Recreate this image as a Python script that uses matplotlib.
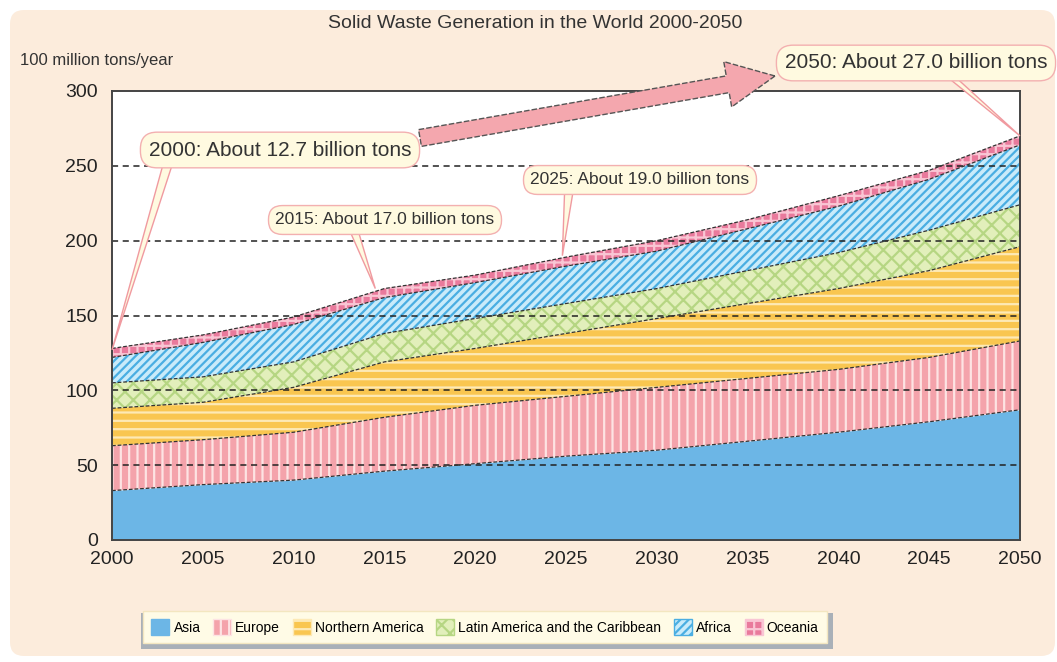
import numpy as np
import matplotlib
matplotlib.use('Agg')
import matplotlib.pyplot as plt
from matplotlib.patches import Patch, FancyBboxPatch, FancyArrow, Polygon
from matplotlib.transforms import IdentityTransform

plt.rcParams['font.family'] = ['Liberation Sans Narrow', 'Liberation Sans', 'DejaVu Sans']
plt.rcParams['hatch.linewidth'] = 1.6

# data (100 million tons / year), cumulative tops per region
years = [2000, 2005, 2010, 2015, 2020, 2025, 2030, 2035, 2040, 2045, 2050]
asia_top = [33, 37, 40, 46, 51, 56, 60, 66, 72, 79, 87]
europe_top = [63, 67, 72, 82, 90, 96, 102, 108, 114, 122, 133]
namerica_top = [88, 92, 102, 119, 128, 138, 148, 158, 168, 180, 196]
latam_top = [105, 109, 119, 138, 148, 158, 168, 180, 192, 207, 224]
africa_top = [122, 132, 144, 162, 172, 183, 193, 208, 223, 241, 264]
oceania_top = [128, 137, 149, 168, 177, 189, 200, 214, 230, 247, 270]

regions = ['Asia', 'Europe', 'Northern America', 'Latin America and the Caribbean', 'Africa', 'Oceania']
tops = [asia_top, europe_top, namerica_top, latam_top, africa_top, oceania_top]
faces = ['#6cb6e6', '#f4a3ab', '#f9c650', '#e2efbb', '#c9ebfa', '#e97a9c']
hatch_cols = ['#6cb6e6', '#fde3e3', '#fde9b5', '#b6d683', '#4aaee2', '#f9c6d4']
hatches = [None, '||', '--', 'xx', '////', '++']

annotations = [
    ('2000: About 12.7 billion tons', 2000, 127),
    ('2015: About 17.0 billion tons', 2014.5, 168),
    ('2025: About 19.0 billion tons', 2024.8, 190),
    ('2050: About 27.0 billion tons', 2050, 270),
]

W, H = 1057, 662
fig = plt.figure(figsize=(W / 100, H / 100), dpi=100)
fig.patch.set_facecolor('white')
fig.add_artist(FancyBboxPatch((10, 6), W - 12, H - 16, boxstyle='round,pad=0,rounding_size=14',
                              transform=IdentityTransform(), fc='#fcecdc', ec='none', zorder=-10))

ax = fig.add_axes([112 / W, 1 - 540 / H, (1020 - 112) / W, (540 - 91) / H])
ax.set_facecolor('white')

x = np.array(years)
bottom = np.zeros(len(years))
for name, top, fc, hc, ht in zip(regions, tops, faces, hatch_cols, hatches):
    top = np.array(top, dtype=float)
    ax.fill_between(x, bottom, top, facecolor=fc, edgecolor=hc, hatch=ht, linewidth=0, zorder=2)
    ax.plot(x, top, color='#333333', lw=0.9, ls=(0, (3, 1.5)), zorder=4)
    bottom = top

ax.set_xlim(2000, 2050)
ax.set_ylim(0, 300)
ax.set_xticks(range(2000, 2051, 5))
ax.set_yticks(range(0, 301, 50))
ax.tick_params(length=0, labelsize=14, colors='#222222', pad=8)
ax.tick_params(axis='y', pad=10)
for yv in range(50, 300, 50):
    ax.axhline(yv, color='#222222', lw=1.1, ls=(0, (4, 3)), zorder=3)
for s in ax.spines.values():
    s.set_color('#444444')
    s.set_linewidth(1.4)
    s.set_zorder(5)

fig.text(535 / W, 1 - 23 / H, 'Solid Waste Generation in the World 2000-2050',
         ha='center', va='center', fontsize=14, color='#333333')
fig.text(20 / W, 1 - 60 / H, '100 million tons/year', ha='left', va='center',
         fontsize=12, color='#333333')

# big arrow (display pixels, y up)
fig.add_artist(FancyArrow(420, H - 138, 355, 62, width=17, head_width=46, head_length=48,
                          length_includes_head=True, transform=IdentityTransform(),
                          fc='#f4a7ae', ec='#555555', lw=1.0, ls=(0, (4, 1.5)), zorder=6))

# callouts: (box centre px, font size, tail base px)
box_pos = [((280, 150), 15, 172), ((385, 220), 12.5, 350), ((640, 180), 12.5, 570), ((916, 63), 15, 935)]
for (label, yr, val), ((cx, cy), fs, tx) in zip(annotations, box_pos):
    px, py = ax.transData.transform((yr, val))
    cyd = H - cy
    tail = Polygon([(tx - 5, cyd), (tx + 5, cyd), (px, py)], closed=True,
                   transform=IdentityTransform(), fc='#fffae0', ec='#f09aa0', lw=1.0, zorder=7)
    fig.add_artist(tail)
    fig.text(cx / W, cyd / H, label, ha='center', va='center', fontsize=fs, color='#333333', zorder=8,
             bbox=dict(boxstyle='round,pad=0.4,rounding_size=0.8', fc='#fffae0', ec='#f3b0b0', lw=1.0))

# legend
handles = [Patch(facecolor=fc, edgecolor=hc, hatch=ht, label=name)
           for name, fc, hc, ht in zip(regions, faces, hatch_cols, hatches)]
fig.add_artist(FancyBboxPatch((141, H - 649), 692, 36, boxstyle='square,pad=0',
                              transform=IdentityTransform(), fc='#a9b0b8', ec='none', zorder=1))
leg = fig.legend(handles=handles, loc='center', bbox_to_anchor=(485 / W, 1 - 627 / H), ncol=6,
                 fontsize=10, frameon=True, fancybox=False, handlelength=1.3, handleheight=1.3,
                 handletextpad=0.3, columnspacing=0.9, borderpad=0.6)
leg.get_frame().set_facecolor('#fffbe6')
leg.get_frame().set_edgecolor('#f3e6c0')
leg.get_frame().set_alpha(1)
leg.set_zorder(2)

fig.savefig('out.png', dpi=100)
